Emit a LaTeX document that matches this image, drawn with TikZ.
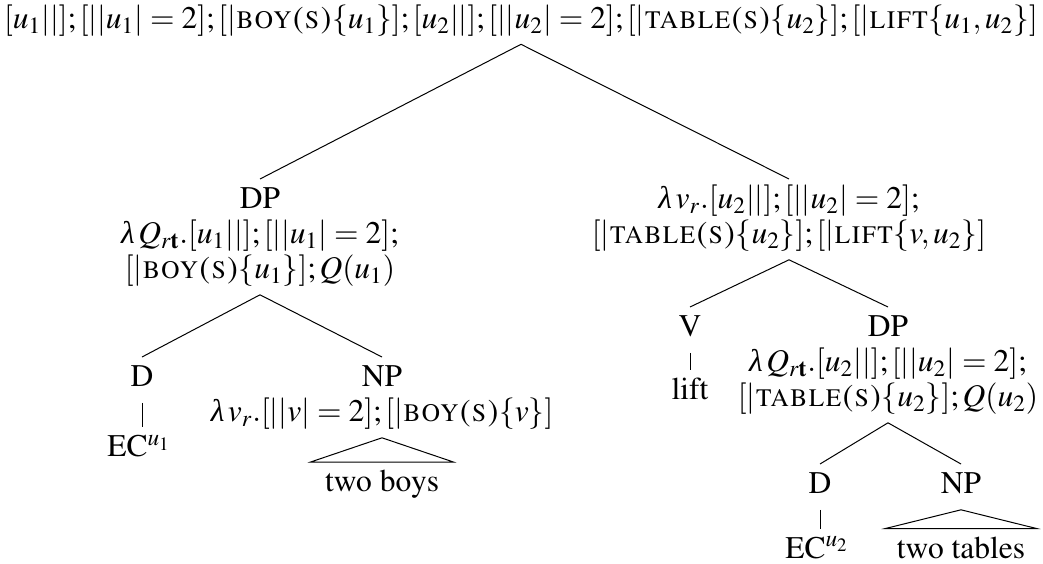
\documentclass[tikz,border=0pt]{standalone}
\usepackage[no-math]{fontspec}
\usepackage[T1]{fontenc}
\usepackage{mathptmx}
\newfontfamily\lamfont{Liberation Serif}
\newcommand\ilam{\mbox{\lamfont\itshape λ}\mkern2mu}
\newcommand\labfont{\fontsize{15.75}{17.5}\selectfont}
\begin{document}
\begin{tikzpicture}[x=0.5pt,y=-0.5pt,
  lab/.style={inner xsep=0pt,inner ysep=2.5pt,align=center,anchor=north,font=\labfont},
  branch/.style={line width=0.5pt,line join=miter}]
\useasboundingbox (0,0) rectangle (1043,563);
\node[lab] (top) at (521,-1.5) {\strut$[u_1||];[||u_1|=2];[|\textsc{boy(s)}\{u_1\}];[u_2||];[||u_2|=2];[|\textsc{table(s)}\{u_2\}];[|\textsc{lift}\{u_1,u_2\}]$};
\node[lab] (dpL) at (260,179) {\strut DP\\ $\ilam Q_{r\mathbf{t}}.[u_1||];[||u_1|=2];$\\ $[|\textsc{boy(s)}\{u_1\}];Q(u_1)$\strut};
\node[lab] (vp) at (789,179) {\strut$\ilam v_r.[u_2||];[||u_2|=2];$\\ $[|\textsc{table(s)}\{u_2\}];[|\textsc{lift}\{v,u_2\}]$\strut};
\node[lab] (dL) at (142,357) {\strut D};
\node[lab] (npL) at (382,357) {\strut NP\\ $\ilam v_r.[||v|=2];[|\textsc{boy(s)}\{v\}]$\strut};
\node[lab] (ecL) at (139,427) {\strut EC$^{u_1}$};
\node[lab] (boys) at (382,462) {\strut two boys};
\node[lab] (v) at (690,307) {\strut V};
\node[lab] (lift) at (690,370) {\strut lift};
\node[lab] (dpR) at (888,307) {\strut DP\\ $\ilam Q_{r\mathbf{t}}.[u_2||];[||u_2|=2];$\\ $[|\textsc{table(s)}\{u_2\}];Q(u_2)$\strut};
\node[lab] (dR) at (820,464) {\strut D};
\node[lab] (npR) at (961,464) {\strut NP};
\node[lab] (ecR) at (817,528.5) {\strut EC$^{u_2}$};
\node[lab] (tables) at (961,528.5) {\strut two tables};
\draw[branch] (top.south) -- (dpL.north);
\draw[branch] (top.south) -- (vp.north);
\draw[branch] (dpL.south) -- (dL.north);
\draw[branch] (dpL.south) -- (npL.north);
\draw[branch] (dL.south) -- (dL.south |- ecL.north);
\draw[branch] (npL.south) -- ([xshift=-7pt]boys.north west) -- ([xshift=7pt]boys.north east) -- cycle;
\draw[branch] (vp.south) -- (v.north);
\draw[branch] (vp.south) -- (dpR.north);
\draw[branch] (v.south) -- (lift.north);
\draw[branch] (dpR.south) -- (dR.north);
\draw[branch] (dpR.south) -- (npR.north);
\draw[branch] (dR.south) -- (dR.south |- ecR.north);
\draw[branch] (npR.south) -- ([xshift=-5.5pt]tables.north west) -- ([xshift=5.5pt]tables.north east) -- cycle;
\end{tikzpicture}
\end{document}
